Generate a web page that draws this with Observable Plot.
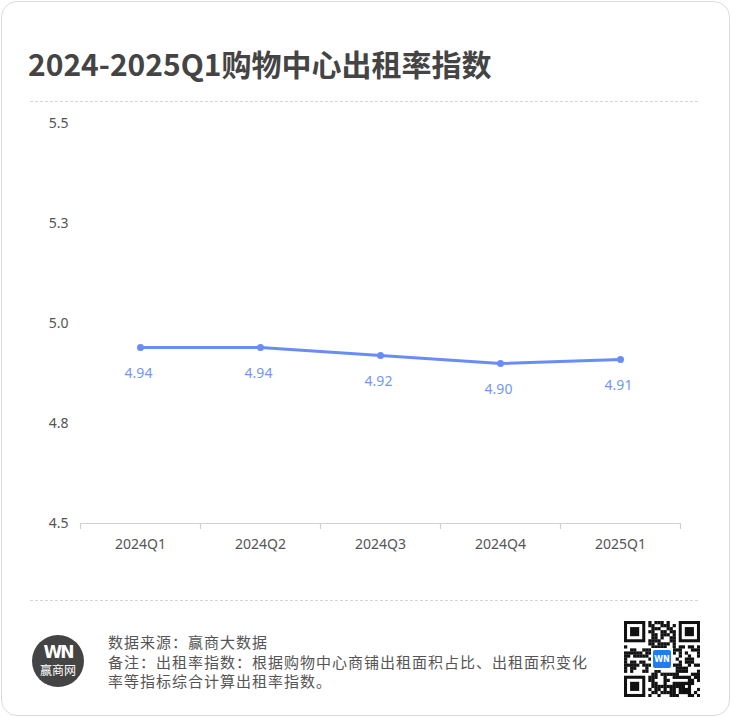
<!DOCTYPE html>
<html>
<head>
<meta charset="utf-8">
<script src="https://cdn.jsdelivr.net/npm/d3@7"></script>
<script src="https://cdn.jsdelivr.net/npm/@observablehq/plot@0.6"></script>
<style>
  html, body { margin: 0; padding: 0; background: #fff; }
  body { width: 732px; height: 717px; position: relative; overflow: hidden; font-family: "Noto Sans CJK SC", "Noto Sans", sans-serif; }
  #card { position: absolute; left: 1px; top: 1px; width: 729px; height: 715px; border: 1px solid #dcdcdc; border-radius: 16px; box-sizing: border-box; }
  #title { position: absolute; left: 28px; top: 43px; font-size: 30px; font-weight: 700; color: #444; line-height: 40px; white-space: nowrap; }
  .dash { position: absolute; left: 30px; width: 668px; border-top: 1px dashed #d6d6d6; height: 0; }
  #chart { position: absolute; left: 0; top: 100px; }
  #logo { position: absolute; left: 32px; top: 635px; width: 52px; height: 52px; border-radius: 50%; background: #444; color: #fff; text-align: center; }
  #logo .w { font-family: "DejaVu Sans", sans-serif; font-weight: 700; font-size: 17px; line-height: 17px; margin-top: 9px; letter-spacing: -2px; }
  #logo .n { font-size: 12px; line-height: 14px; margin-top: 2px; }
  .foot { position: absolute; left: 108px; font-size: 15px; letter-spacing: 1px; color: #555; line-height: 20px; height: 20px; white-space: nowrap; }
  #qr { position: absolute; left: 624px; top: 621px; }
</style>
</head>
<body>
<div id="card"></div>
<div id="title">2024-2025Q1购物中心出租率指数</div>
<div class="dash" style="top:101px"></div>
<div id="chart"></div>
<div class="dash" style="top:600px"></div>
<div id="logo"><div class="w">WN</div><div class="n">赢商网</div></div>
<div class="foot" style="top:632px">数据来源：赢商大数据</div>
<div class="foot" style="top:652px">备注：出租率指数：根据购物中心商铺出租面积占比、出租面积变化</div>
<div class="foot" style="top:671px">率等指标综合计算出租率指数。</div>
<svg id="qr" width="76" height="76"></svg>
<script>
const quarters = ["2024Q1", "2024Q2", "2024Q3", "2024Q4", "2025Q1"];
const values = [4.94, 4.94, 4.92, 4.90, 4.91];
const yTicks = [4.5, 4.75, 5.0, 5.25, 5.5];

const data = quarters.map((q, i) => ({q, v: values[i]}));
const lineColor = "#6a8cf6";
const W = 732, H = 460, mL = 80, mR = 52, mT = 23, mB = 37;
const bw = (W - mL - mR) / quarters.length;

const chart = Plot.plot({
  width: W, height: H,
  marginLeft: mL, marginRight: mR, marginTop: mT, marginBottom: mB,
  style: {fontFamily: "'Noto Sans', 'DejaVu Sans', sans-serif", fontSize: "14px", color: "#555", background: "transparent"},
  x: {type: "band", domain: quarters, padding: 0, label: null},
  y: {domain: [4.5, 5.5], label: null},
  marks: [
    Plot.axisY({ticks: yTicks, tickFormat: d3.format(".1f"), tickSize: 0, tickPadding: 12, fill: "#555", fontSize: 14}),
    Plot.axisX({tickSize: 0, tickPadding: 16, fill: "#555", fontSize: 14}),
    Plot.ruleY([4.5], {stroke: "#d0d0d0", strokeWidth: 1.2}),
    Plot.ruleX(quarters, {x: d => d, y1: 4.5, y2: 4.5, insetBottom: -6, dx: -bw / 2, stroke: "#d0d0d0", strokeWidth: 1.2}),
    Plot.ruleX([quarters[quarters.length - 1]], {x: d => d, y1: 4.5, y2: 4.5, insetBottom: -6, dx: bw / 2, stroke: "#d0d0d0", strokeWidth: 1.2}),
    Plot.line(data, {x: "q", y: "v", stroke: lineColor, strokeWidth: 3}),
    Plot.dot(data, {x: "q", y: "v", r: 3.5, fill: lineColor, stroke: "none"}),
    Plot.text(data, {x: "q", y: "v", text: d => d3.format(".2f")(d.v), dy: 26, dx: -2, fill: "#7396f7", fontSize: 14})
  ]
});
document.getElementById("chart").appendChild(chart);

// decorative QR-like pattern
const qr = d3.select("#qr");
const n = 25, cs = 76 / n;
qr.append("rect").attr("width", 76).attr("height", 76).attr("fill", "#fff");
let seed = 7;
function rnd() { seed = (seed * 9301 + 49297) % 233280; return seed / 233280; }
for (let r = 0; r < n; r++) for (let c = 0; c < n; c++) {
  const inFinder = (r < 8 && c < 8) || (r < 8 && c >= n - 8) || (r >= n - 8 && c < 8);
  if (inFinder) continue;
  if (rnd() < 0.5) qr.append("rect").attr("x", c * cs).attr("y", r * cs).attr("width", cs + 0.2).attr("height", cs + 0.2).attr("fill", "#111");
}
[[0,0],[0,n-7],[n-7,0]].forEach(([r,c]) => {
  qr.append("rect").attr("x", c*cs + cs/2).attr("y", r*cs + cs/2).attr("width", 6*cs).attr("height", 6*cs).attr("fill", "none").attr("stroke", "#111").attr("stroke-width", cs);
  qr.append("rect").attr("x", (c+2)*cs).attr("y", (r+2)*cs).attr("width", 3*cs).attr("height", 3*cs).attr("fill", "#111");
});
qr.append("rect").attr("x", 27).attr("y", 27).attr("width", 22).attr("height", 22).attr("fill", "#fff");
qr.append("rect").attr("x", 29).attr("y", 29).attr("width", 18).attr("height", 18).attr("rx", 2).attr("fill", "#1e7ef0");
qr.append("text").attr("x", 38).attr("y", 41).attr("text-anchor", "middle").attr("font-size", 8).attr("font-weight", 700).attr("fill", "#fff").attr("font-family", "DejaVu Sans").text("WN");
</script>
</body>
</html>
